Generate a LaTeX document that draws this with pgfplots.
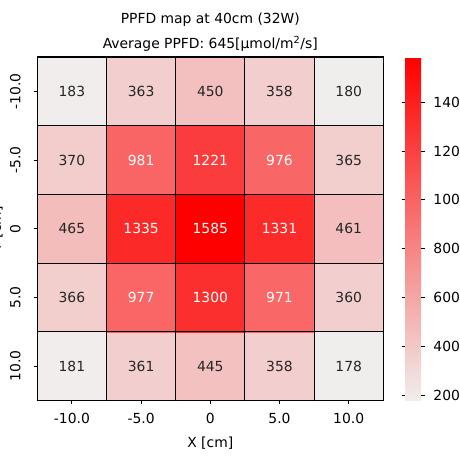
\documentclass[border=0pt]{standalone}
\usepackage{fontspec}
\setmainfont{DejaVu Sans}
\usepackage{pgfplots}
\pgfplotsset{compat=1.18}
\definecolor{txtdark}{HTML}{262626}
\begin{document}
\begin{tikzpicture}
\path[use as bounding box] (-26.86bp,-42.84bp) rectangle (304.34bp,288.36bp);
\clip (-26.86bp,-42.84bp) rectangle (304.34bp,288.36bp);
\begin{axis}[
  at={(0,0)}, anchor=south west,
  scale only axis, width=249.1bp, height=247.3bp,
  xmin=-0.5, xmax=4.5, ymin=-0.5, ymax=4.5,
  enlargelimits=false,
  font=\fontsize{10bp}{12bp}\selectfont,
  xtick={0,1,2,3,4}, xticklabels={-10.0,-5.0,0,5.0,10.0},
  ytick={0,1,2,3,4}, yticklabels={10.0,5.0,0,-5.0,-10.0},
  minor xtick={0.5,1.5,2.5,3.5}, minor ytick={0.5,1.5,2.5,3.5},
  xminorgrids, yminorgrids,
  minor grid style={black, line width=0.8bp},
  axis line style={black, line width=0.8bp},
  minor tick length=0pt,
  major tick length=2.5bp,
  tick align=outside,
  major tick style={black, line width=0.6bp},
  xtick pos=bottom, ytick pos=left,
  xticklabel style={anchor=base, yshift=-14bp},
  yticklabel style={xshift=-9.6bp, rotate=90, anchor=base},
  axis on top,
  xlabel={X [cm]},
  xlabel style={at={(axis description cs:0.5,0)}, anchor=center, yshift=-30.5bp},
  ylabel={Y [cm]},
  ylabel style={at={([xshift=-24.7bp]axis description cs:0,0.5)}, anchor=south, inner sep=0pt},
  title={PPFD map at 40cm (32W)\\Average PPFD: 645[μmol/m\textsuperscript{2}/s]},
  title style={align=center, font=\fontsize{10bp}{17.8bp}\selectfont, at={(axis description cs:0.5,1)}, anchor=south, yshift=-1.8bp, inner sep=0pt},
  colormap={pr}{rgb255=(240,238,237) rgb255=(255,0,0)},
  point meta min=178, point meta max=1585,
  colorbar,
  colorbar style={
    at={(parent axis.north east)}, anchor=north west, xshift=7.2bp,
    scale only axis, width=11.52bp, height=247.3bp,
    ytick={200,400,600,800,1000,1200,1400},
    yticklabel style={/pgf/number format/1000 sep={}, /pgf/number format/assume math mode=true, font=\fontsize{10bp}{12bp}\selectfont, xshift=2.9bp},
    axis line style={draw=none},
    major tick length=2.5bp, tick align=outside,
    major tick style={black, line width=0.6bp},
  },
]
\addplot[matrix plot*, mesh/cols=5, mesh/rows=5, point meta=explicit] table[meta=c] {
x y c
0 0 181
1 0 361
2 0 445
3 0 358
4 0 178
0 1 366
1 1 977
2 1 1300
3 1 971
4 1 360
0 2 465
1 2 1335
2 2 1585
3 2 1331
4 2 461
0 3 370
1 3 981
2 3 1221
3 3 976
4 3 365
0 4 183
1 4 363
2 4 450
3 4 358
4 4 180
};
\addplot[draw=none, nodes near coords, point meta=explicit symbolic,
  nodes near coords style={anchor=center, text=txtdark, font=\fontsize{10bp}{12bp}\selectfont}]
  table[meta=v] {
x y v
0 0 181
1 0 361
2 0 445
3 0 358
4 0 178
0 1 366
4 1 360
0 2 465
4 2 461
0 3 370
4 3 365
0 4 183
1 4 363
2 4 450
3 4 358
4 4 180
};
\addplot[draw=none, nodes near coords, point meta=explicit symbolic,
  nodes near coords style={anchor=center, text=white, font=\fontsize{10bp}{12bp}\selectfont}]
  table[meta=v] {
x y v
1 1 977
2 1 1300
3 1 971
1 2 1335
2 2 1585
3 2 1331
1 3 981
2 3 1221
3 3 976
};
\end{axis}
\end{tikzpicture}
\end{document}
